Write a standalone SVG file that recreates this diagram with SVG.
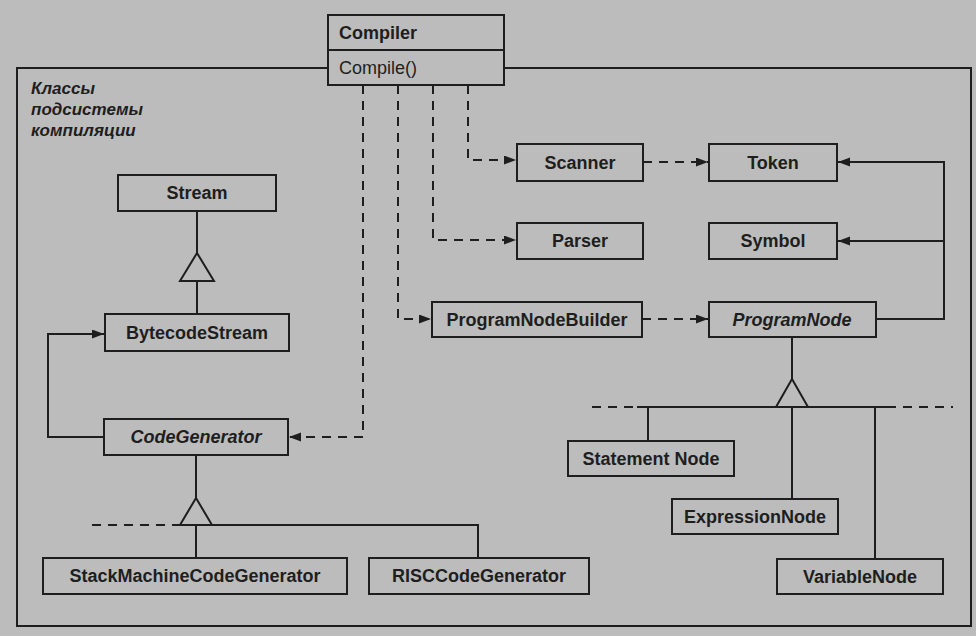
<svg xmlns="http://www.w3.org/2000/svg" width="976" height="636" viewBox="0 0 976 636">
<defs>
<marker id="arr" markerUnits="userSpaceOnUse" markerWidth="13" markerHeight="10" refX="12" refY="4.5" orient="auto">
<path d="M0,0 L12,4.5 L0,9 Z" fill="#1e1e1e" stroke="none"/>
</marker>
<style>
.bg{fill:#bcbcbc}
.box{fill:#bcbcbc;stroke:#1e1e1e;stroke-width:2}
.ln{fill:none;stroke:#1e1e1e;stroke-width:2}
.dl{fill:none;stroke:#1e1e1e;stroke-width:2;stroke-dasharray:9 7}
.tri{fill:#bcbcbc;stroke:#1e1e1e;stroke-width:2;stroke-linejoin:miter}
.t{font-family:"Liberation Sans",Arial,sans-serif;font-size:18px;font-weight:bold;fill:#1e1e1e;text-anchor:middle}
.ti{font-style:italic}
.op{font-family:"Liberation Sans",Arial,sans-serif;font-size:18px;fill:#1e1e1e}
.lbl{font-family:"Liberation Sans",Arial,sans-serif;font-size:17px;font-weight:bold;font-style:italic;fill:#1e1e1e}
</style>
</defs>
<rect class="bg" x="0" y="0" width="976" height="636"/>
<g id="subsystem">
<rect class="ln" x="17" y="68" width="954" height="558"/>
<text class="lbl" x="31" y="94">Классы</text>
<text class="lbl" x="31" y="115">подсистемы</text>
<text class="lbl" x="31" y="136">компиляции</text>
</g>
<g id="connectors">
<!-- Stream generalization -->
<line class="ln" x1="197" y1="211" x2="197" y2="253"/>
<line class="ln" x1="197" y1="281" x2="197" y2="314"/>
<polygon class="tri" points="197,253 180,281 214,281"/>
<!-- CodeGenerator -> BytecodeStream -->
<polyline class="ln" points="104,437 48,437 48,334 104,334" marker-end="url(#arr)"/>
<!-- CodeGenerator generalization -->
<line class="ln" x1="196" y1="455" x2="196" y2="498"/>
<line class="ln" x1="196" y1="525" x2="196" y2="558"/>
<polyline class="ln" points="212,525 478,525 478,558"/>
<line class="dl" x1="92" y1="525" x2="180" y2="525"/>
<polygon class="tri" points="196,498 180,525 212,525"/>
<!-- Compiler dependencies -->
<polyline class="dl" points="468,85 468,160 516,160" marker-end="url(#arr)"/>
<polyline class="dl" points="433,85 433,240 516,240" marker-end="url(#arr)"/>
<polyline class="dl" points="398,85 398,319 431,319" marker-end="url(#arr)"/>
<polyline class="dl" points="363,85 363,437 289,437" marker-end="url(#arr)"/>
<!-- Scanner -> Token -->
<line class="dl" x1="643" y1="162" x2="708" y2="162" marker-end="url(#arr)"/>
<!-- ProgramNodeBuilder -> ProgramNode -->
<line class="dl" x1="642" y1="319" x2="708" y2="319" marker-end="url(#arr)"/>
<!-- ProgramNode -> Token, Symbol -->
<polyline class="ln" points="876,319 944,319 944,162 838,162" marker-end="url(#arr)"/>
<polyline class="ln" points="944,241 838,241" marker-end="url(#arr)"/>
<!-- ProgramNode generalization -->
<line class="ln" x1="792" y1="337" x2="792" y2="379"/>
<line class="ln" x1="637" y1="407" x2="887" y2="407"/>
<line class="dl" x1="592" y1="407" x2="637" y2="407"/>
<line class="dl" x1="887" y1="407" x2="953" y2="407"/>
<line class="ln" x1="648" y1="407" x2="648" y2="441"/>
<line class="ln" x1="792" y1="407" x2="792" y2="499"/>
<line class="ln" x1="875" y1="407" x2="875" y2="559"/>
<polygon class="tri" points="792,379 776,407 808,407"/>
</g>
<g id="compiler">
<rect class="box" x="328" y="15" width="176" height="70"/>
<line class="ln" x1="328" y1="50" x2="504" y2="50"/>
<text class="t" x="339" y="39" style="text-anchor:start">Compiler</text>
<text class="op" x="339" y="74">Compile()</text>
</g>
<g id="stream"><rect class="box" x="118" y="175" width="158" height="36"/><text class="t" x="197" y="199">Stream</text></g>
<g id="bytecodestream"><rect class="box" x="105" y="314" width="184" height="37"/><text class="t" x="197" y="339">BytecodeStream</text></g>
<g id="codegenerator"><rect class="box" x="104" y="419" width="184" height="36"/><text class="t ti" x="196" y="443">CodeGenerator</text></g>
<g id="stackmachinecodegenerator"><rect class="box" x="43" y="558" width="304" height="36"/><text class="t" x="195" y="582">StackMachineCodeGenerator</text></g>
<g id="risccodegenerator"><rect class="box" x="369" y="558" width="220" height="36"/><text class="t" x="479" y="582">RISCCodeGenerator</text></g>
<g id="scanner"><rect class="box" x="517" y="144" width="126" height="37"/><text class="t" x="580" y="169">Scanner</text></g>
<g id="parser"><rect class="box" x="517" y="223" width="126" height="36"/><text class="t" x="580" y="247">Parser</text></g>
<g id="programnodebuilder"><rect class="box" x="432" y="302" width="210" height="35"/><text class="t" x="537" y="326">ProgramNodeBuilder</text></g>
<g id="token"><rect class="box" x="709" y="144" width="128" height="37"/><text class="t" x="773" y="169">Token</text></g>
<g id="symbol"><rect class="box" x="709" y="223" width="128" height="36"/><text class="t" x="773" y="247">Symbol</text></g>
<g id="programnode"><rect class="box" x="709" y="302" width="167" height="35"/><text class="t ti" x="792" y="326">ProgramNode</text></g>
<g id="statementnode"><rect class="box" x="568" y="441" width="166" height="35"/><text class="t" x="651" y="465">Statement Node</text></g>
<g id="expressionnode"><rect class="box" x="672" y="499" width="166" height="35"/><text class="t" x="755" y="523">ExpressionNode</text></g>
<g id="variablenode"><rect class="box" x="777" y="559" width="166" height="35"/><text class="t" x="860" y="583">VariableNode</text></g>
</svg>
